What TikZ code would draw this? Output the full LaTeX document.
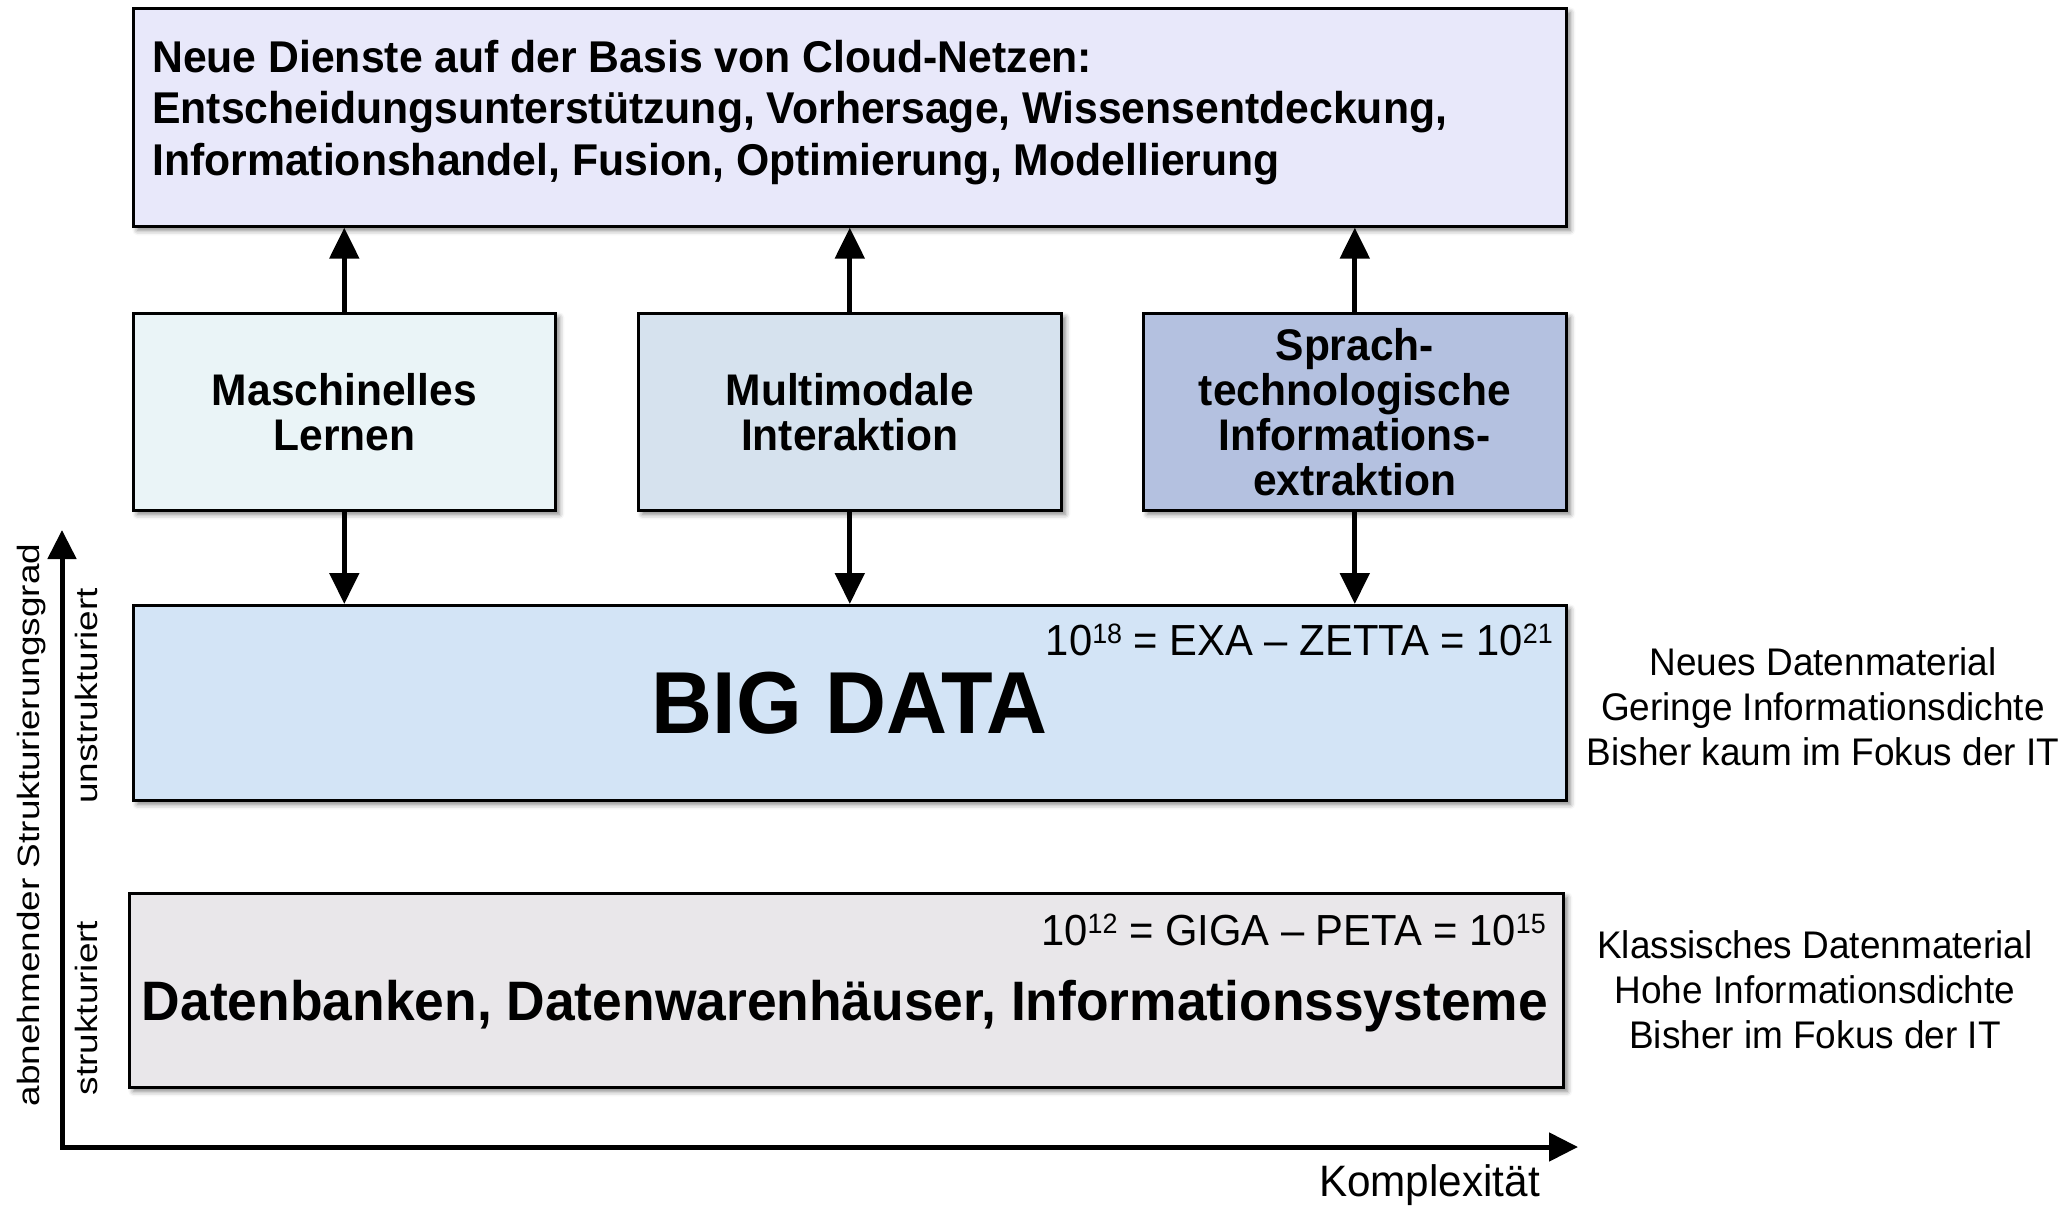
\documentclass[tikz,border=0pt]{standalone}
\usepackage{fontspec}
\setmainfont{Liberation Sans}[FakeStretch=0.96]
\usepackage{graphicx}
\usetikzlibrary{arrows.meta,shadows.blur}

\definecolor{cTop}{HTML}{E8E8FA}
\definecolor{cML}{HTML}{EAF4F7}
\definecolor{cMM}{HTML}{D6E2EE}
\definecolor{cSP}{HTML}{B4C1E0}
\definecolor{cBD}{HTML}{D3E4F6}
\definecolor{cDB}{HTML}{E9E7EA}

\newcommand{\fs}[2]{\fontsize{#1}{#2}\selectfont}
\newcommand{\hoch}[1]{\raisebox{11.1pt}{\fontsize{28}{28}\selectfont #1}}

\begin{document}
\begin{tikzpicture}[x=1pt,y=-1pt,
  box/.style={draw=black, line width=2.6pt, inner sep=0pt, anchor=north west,
    blur shadow={shadow xshift=4pt, shadow yshift=-4pt, shadow blur radius=5pt, shadow opacity=50}},
  link/.style={line width=5pt, -{Triangle[length=31pt,width=29pt]}},
  axis/.style={line width=5pt, line join=miter,
    {Triangle[length=29pt,width=28pt]}-{Triangle[length=29pt,width=28pt]}},
  boldtext/.style={font=\bfseries\fs{44.3}{45}, align=center},
  plain/.style={font=\fs{38.5}{45}, align=center, inner sep=0pt},
  vlabel/.style={font=\fs{38.5}{45}, rotate=90, anchor=base}
]
\useasboundingbox (0,0) rectangle (2072,1206);

% service layer on top
\node[box, fill=cTop, minimum width=1433pt, minimum height=218pt] (dienste) at (132,7) {};
\node[anchor=north west, align=left, inner sep=0pt, font=\bfseries\fs{44.5}{51.5}] (dienstetext) at (152,40)
  {Neue Dienste auf der Basis von Cloud-Netzen:\\
   Entscheidungsunterstützung, Vorhersage, Wissensentdeckung,\\
   Informationshandel, Fusion, Optimierung, Modellierung};

% three technology boxes
\node[box, fill=cML, minimum width=422pt, minimum height=197pt, boldtext] (ml) at (132,312) {Maschinelles\\Lernen};
\node[box, fill=cMM, minimum width=423pt, minimum height=197pt, boldtext] (mm) at (637,312) {Multimodale\\Interaktion};
\node[box, fill=cSP, minimum width=423pt, minimum height=197pt, boldtext] (sp) at (1142,312) {Sprach-\\technologische\\Informations-\\extraktion};

% data layers
\node[box, fill=cBD, minimum width=1433pt, minimum height=195pt, font=\bfseries\fs{88}{88}] (bigdata) at (132,604) {BIG DATA};
\node[anchor=base east, inner sep=0pt, font=\fs{43.5}{43.5}] (bdscale) at (1553,655) {10\hoch{18} = EXA – ZETTA = 10\hoch{21}};

\node[box, fill=cDB, minimum width=1434pt, minimum height=194pt] (db) at (128,892) {};
\node[anchor=base east, inner sep=0pt, font=\fs{43.5}{43.5}] (dbscale) at (1546,945) {10\hoch{12} = GIGA – PETA = 10\hoch{15}};
\node[anchor=base, inner sep=0pt, font=\bfseries\fs{55.6}{60}] (dbtext) at (845,1020) {Datenbanken, Datenwarenhäuser, Informationssysteme};

% notes on the right
\node[plain, anchor=north] (neu) at (1823,647) {Neues Datenmaterial\\Geringe Informationsdichte\\Bisher kaum im Fokus der IT};
\node[plain, anchor=north] (klass) at (1815,930) {Klassisches Datenmaterial\\Hohe Informationsdichte\\Bisher im Fokus der IT};

% connectors
\foreach \n in {ml,mm,sp} {
  \draw[link] (\n.north) -- (\n.north |- dienste.south);
  \draw[link] (\n.south) -- (\n.south |- bigdata.north);
}

% axes
\coordinate (origin) at (62,1147);
\coordinate (ytip) at (62,530);
\coordinate (xtip) at (1578,1147);
\draw[axis] (ytip) -- (origin) -- (xtip);
\node[anchor=base east, inner sep=0pt, font=\fs{44}{44}] (komplex) at (1540,1196) {Komplexität};
\node[vlabel] (strukgrad) at (39,825) {\scalebox{1}[0.8]{abnehmender Strukturierungsgrad}};
\node[vlabel] (unstruk) at (97,696) {\scalebox{1}[0.8]{unstrukturiert}};
\node[vlabel] (struk) at (97,1008) {\scalebox{1}[0.8]{strukturiert}};
\end{tikzpicture}
\end{document}
